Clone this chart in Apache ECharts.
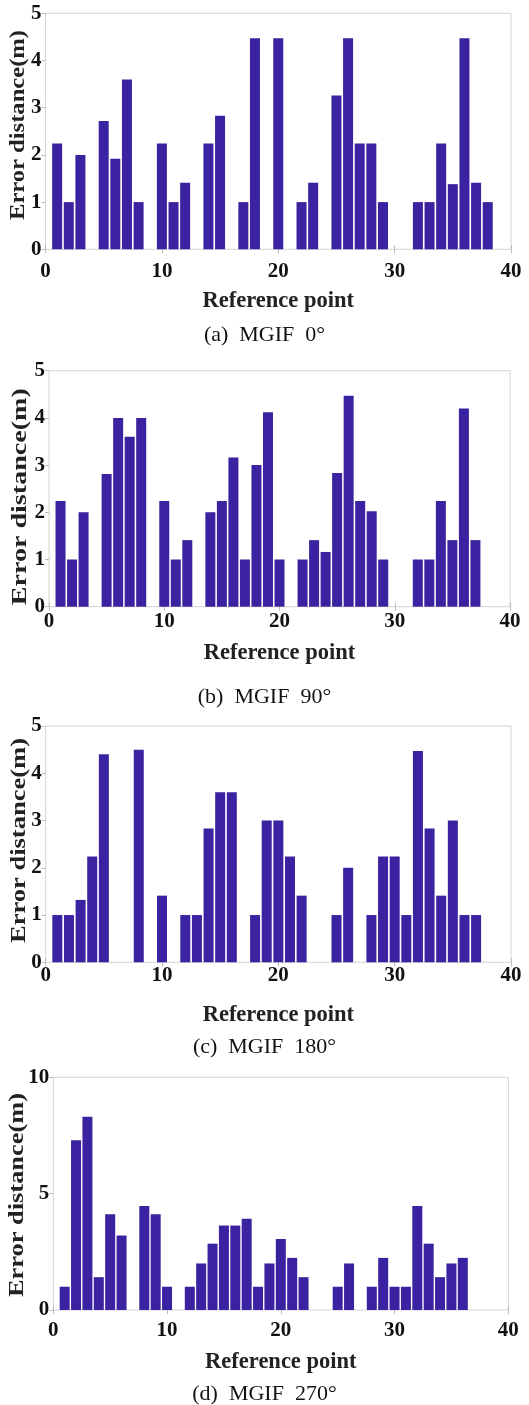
<!DOCTYPE html>
<html>
<head>
<meta charset="utf-8">
<script src="https://cdn.jsdelivr.net/npm/echarts@6/dist/echarts.min.js"></script>
<style>
html,body{margin:0;padding:0;background:#fff;}
#c{width:529px;height:1405px;}
</style>
</head>
<body>
<div id="c"></div>
<script>
// Reference points (x) and error distances (m); null = no bar
const points = [1,2,3,4,5,6,7,8,9,10,11,12,13,14,15,16,17,18,19,20,21,22,23,24,25,26,27,28,29,30,31,32,33,34,35,36,37,38];
const err0   = [2.24,1,2,null,2.72,1.92,3.6,1,null,2.24,1,1.41,null,2.24,2.83,null,1,4.47,null,4.47,null,1,1.41,null,3.26,4.47,2.24,2.24,1,null,null,1,1,2.24,1.38,4.47,1.41,1];
const err90  = [2.24,1,2,null,2.81,4,3.6,4,null,2.24,1,1.41,null,2,2.24,3.16,1,3,4.12,1,null,1,1.41,1.16,2.83,4.47,2.24,2.02,1,null,null,1,1,2.24,1.41,4.2,1.41,null];
const err180 = [1,1,1.32,2.24,4.4,null,null,4.5,null,1.41,null,1,1,2.83,3.6,3.6,null,1,3,3,2.24,1.41,null,null,1,2,null,1,2.24,2.24,1,4.47,2.83,1.41,3,1,1,null];
const err270 = [1,7.3,8.3,1.41,4.12,3.2,null,4.47,4.12,1,null,1,2,2.85,3.63,3.63,3.92,1,2,3.05,2.24,1.41,null,null,1,2,null,1,2.24,1,1,4.47,2.85,1.41,2,2.24,null,null];
const xTicks = [0,10,20,30,40];
const captions = ['(a)  MGIF  0°','(b)  MGIF  90°','(c)  MGIF  180°','(d)  MGIF  270°'];
const yMax = [5,5,5,10];
const yInterval = [1,1,1,5];
const xLabel = 'Reference point';
const yLabel = 'Error distance(m)';

const series_data = [err0, err90, err180, err270];
const grids = [
  {left:45.5, top:13.3, width:465.5, height:236},
  {left:49,   top:370.7, width:461, height:236},
  {left:45.7, top:726, width:465.3, height:236.3},
  {left:53.3, top:1077.3, width:455, height:232.7}
];
const captionTop = [319, 681, 1031, 1378];
const xLabelMargin = [12, 4, 3, 10];
const xNameGap = [40, 35, 41, 41];
// y-axis title placement (centre x, centre y, drawn length)
const yNamePos = [[18.5,125,190],[20.5,496.7,217],[20,840.5,205],[18.3,1195,204]];
const serif = '"Liberation Serif","Times New Roman",serif';
const yNameFont = 'bold 20px "Liberation Serif"';
const barColor = '#3a22a0';
const frame = '#d4d4d4';

const mctx = document.createElement('canvas').getContext('2d');
mctx.font = yNameFont;
const yNameNatural = mctx.measureText(yLabel).width;

const option = {
  animation:false,
  backgroundColor:'#fff',
  grid: grids.map(g => Object.assign({show:true, borderColor:frame, borderWidth:1, backgroundColor:'transparent', containLabel:false, outerBoundsMode:'none'}, g)),
  title: captions.map((t,i)=>({text:t, left:'center', top:captionTop[i], textStyle:{fontFamily:serif, fontWeight:'normal', fontSize:22, color:'#111'}})),
  graphic: yNamePos.map(p => ({
    type:'text', x:p[0], y:p[1], rotation:Math.PI/2, scaleX:p[2]/yNameNatural, silent:true,
    style:{text:yLabel, font:yNameFont, fill:'#222', align:'center', verticalAlign:'middle'}
  })),
  xAxis: [],
  yAxis: [],
  series: []
};
for (let i=0;i<4;i++){
  option.xAxis.push({
    type:'value', gridIndex:i, min:0, max:40, interval:10, position:'bottom',
    name:xLabel, nameLocation:'middle', nameGap:xNameGap[i], nameMoveOverlap:false,
    nameTextStyle:{fontFamily:serif, fontWeight:'bold', fontSize:22.5, color:'#222'},
    axisLine:{show:false}, splitLine:{show:false},
    axisTick:{show:true, inside:true, length:4, lineStyle:{color:'#bbb'}},
    axisLabel:{fontFamily:serif, fontWeight:'bold', fontSize:21, color:'#111', margin:xLabelMargin[i]}
  });
  option.xAxis.push({
    type:'value', gridIndex:i, min:0, max:40, interval:10, position:'top',
    axisLine:{show:false}, splitLine:{show:false}, axisLabel:{show:false},
    axisTick:{show:true, inside:true, length:4, lineStyle:{color:'#bbb'}}
  });
  option.yAxis.push({
    type:'value', gridIndex:i, min:0, max:yMax[i], interval:yInterval[i], position:'left',
    axisLine:{show:false}, splitLine:{show:false},
    axisTick:{show:false},
    axisLabel:{fontFamily:serif, fontWeight:'bold', fontSize:21, color:'#111', margin:4}
  });
  option.yAxis.push({
    type:'value', gridIndex:i, min:0, max:yMax[i], interval:yInterval[i], position:'right',
    axisLine:{show:false}, splitLine:{show:false}, axisLabel:{show:false},
    axisTick:{show:true, inside:true, length:4, lineStyle:{color:'#bbb'}}
  });
  const d = [];
  series_data[i].forEach((v,k)=>{ if (v!==null) d.push([points[k], v]); });
  option.series.push({
    type:'bar', xAxisIndex:2*i, yAxisIndex:2*i, data:d, barWidth:10,
    itemStyle:{color:barColor}, silent:true
  });
}
const chart = echarts.init(document.getElementById('c'), null, {renderer:'canvas'});
chart.setOption(option);
</script>
</body>
</html>
